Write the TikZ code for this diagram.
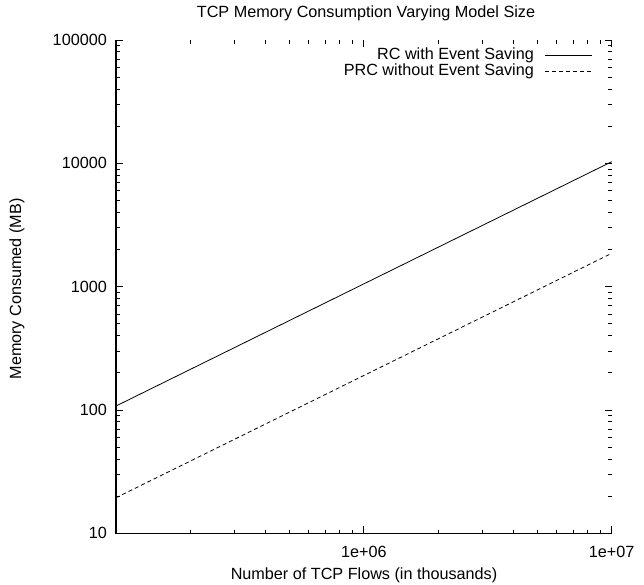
\documentclass[tikz,border=0pt]{standalone}
\usepackage{fontspec}
\setmainfont{Liberation Sans}
\begin{document}
\begin{tikzpicture}[x=1pt,y=-1pt,
  font=\fontsize{16.2}{19}\selectfont,
  axisline/.style={line width=1.1pt},
  tickline/.style={line width=0.9pt},
  curve/.style={line width=0.8pt},
  dashcurve/.style={line width=0.8pt, dash pattern=on 4pt off 3pt},
  lbl/.style={inner sep=0pt}]
\useasboundingbox (0,0) rectangle (644,584);
\def\L{116}\def\R{611.7}\def\T{40}\def\B{533.3}
\def\DX{247.85}\def\DY{123.33}
\coordinate (bl) at (\L,\B);
\coordinate (tl) at (\L,\T);
\coordinate (br) at (\R,\B);
\draw[axisline] (tl) -- (bl) -- (br);
% y major ticks and labels
\foreach \d/\lab in {0/10,1/100,2/1000,3/10000,4/100000} {
  \pgfmathsetmacro\yy{\B-\d*\DY}
  \draw[tickline] (\L,\yy) -- ++(7,0);
  \draw[tickline] (\R,\yy) -- ++(-7,0);
  \node[lbl, anchor=east] (ylab\d) at (107,\yy) {\lab};
}
% y minor ticks
\foreach \d in {0,...,3} {
  \foreach \k in {2,...,9} {
    \pgfmathsetmacro\yy{\B-(\d+log10(\k))*\DY}
    \draw[tickline] (\L,\yy) -- ++(3.5,0);
    \draw[tickline] (\R,\yy) -- ++(-3.5,0);
  }
}
% x major ticks
\foreach \d in {0,1,2} {
  \pgfmathsetmacro\xx{\L+\d*\DX}
  \draw[tickline] (\xx,\B) -- ++(0,-7);
  \draw[tickline] (\xx,\T) -- ++(0,7);
}
% x minor ticks
\foreach \d in {0,1} {
  \foreach \k in {2,...,9} {
    \pgfmathsetmacro\xx{\L+(\d+log10(\k))*\DX}
    \draw[tickline] (\xx,\B) -- ++(0,-3.5);
    \draw[tickline] (\xx,\T) -- ++(0,3.5);
  }
}
\node[lbl] (xlab6) at (\L+\DX,552) {1e+06};
\node[lbl] (xlab7) at (\R,552) {1e+07};
% titles
\node[lbl] (title) at (366,13) {TCP Memory Consumption Varying Model Size};
\node[lbl] (xtitle) at (364,575) {Number of TCP Flows (in thousands)};
\node[lbl, rotate=90] (ytitle) at (17,289) {Memory Consumed (MB)};
% legend
\node[lbl, anchor=east] (leg1) at (534,55) {RC with Event Saving};
\node[lbl, anchor=east] (leg2) at (534,71) {PRC without Event Saving};
\coordinate (l1a) at (545,55); \coordinate (l1b) at (592,55);
\coordinate (l2a) at (545,71); \coordinate (l2b) at (592,71);
\draw[curve] (l1a) -- (l1b);
\draw[dashcurve] (l2a) -- (l2b);
% data
\coordinate (rc0) at (\L,406); \coordinate (rc1) at (\R,161.7);
\coordinate (prc0) at (\L,497.7); \coordinate (prc1) at (\R,253.3);
\draw[curve] (rc0) -- (rc1);
\draw[dashcurve] (prc0) -- (prc1);
\end{tikzpicture}
\end{document}
